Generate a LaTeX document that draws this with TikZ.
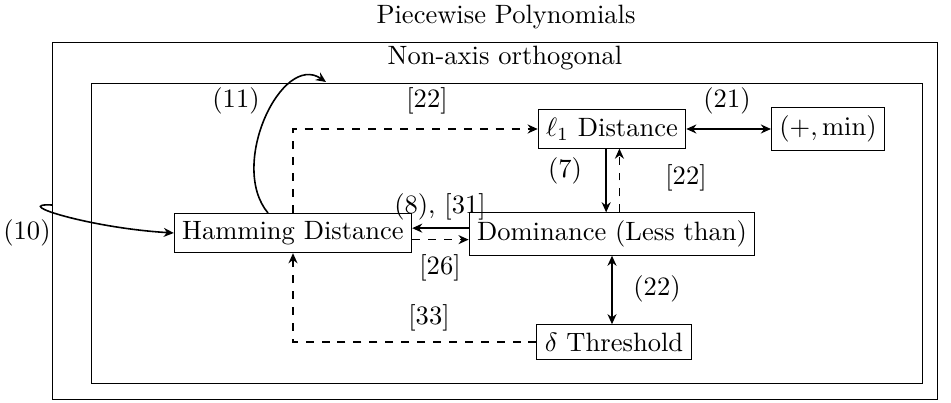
\documentclass[tikz,border=0pt]{standalone}
\usetikzlibrary{arrows.meta}
\begin{document}
\begin{tikzpicture}[x=0.377pt,y=-0.377pt,
  box/.style={draw, line width=0.35pt, inner sep=3pt},
  frame/.style={line width=0.35pt},
  lbl/.style={inner sep=0pt},
  conn/.style={semithick, -{Stealth[length=3.8pt,width=3.4pt]}},
  bothconn/.style={semithick, {Stealth[length=3.8pt,width=3.4pt]}-{Stealth[length=3.8pt,width=3.4pt]}},
  dconn/.style={conn, dashed}]
\useasboundingbox (0,0) rectangle (951,403);
% frames
\draw[frame] (52,42) rectangle (937,399);
\draw[frame] (91,83) rectangle (922,383);
\node[lbl] (title) at (506,17) {Piecewise Polynomials};
\node[lbl] (nao) at (505,58) {Non-axis orthogonal};
% nodes
\node[box] (ham) at (293,233) {Hamming Distance};
\node[box] (dom) at (612,234) {Dominance (Less than)};
\node[box] (l1) at (612,129) {$\ell_1$ Distance};
\node[box] (pm) at (828,129) {$(+,\min)$};
\node[box] (thr) at (614,342) {$\delta$ Threshold};
\coordinate (p10) at (52,205);
\coordinate (p11) at (326,82);
% connectors
\draw[dconn] (ham.north) |- (l1.west);
\draw[dconn] (thr.west) -| (ham.south);
\draw[conn] ([yshift=2.2pt]dom.west) -- ([yshift=2.2pt]dom.west -| ham.east);
\draw[dconn] ([yshift=-2.5pt]ham.east) -- ([yshift=-2.5pt]ham.east -| dom.west);
\draw[conn] ([xshift=-2.2pt]l1.south) -- ([xshift=-2.2pt]l1.south |- dom.north);
\draw[dconn] ([xshift=2.8pt]l1.south |- dom.north) -- ([xshift=2.8pt]l1.south);
\draw[bothconn] (l1.east) -- (pm.west);
\draw[bothconn] (dom.south) -- (dom.south |- thr.north);
\draw[conn] (p10) .. controls (10,203) and (90,228) .. (ham.west);
\draw[conn] (268,213) .. controls (228,165) and (282,52) .. (p11);
% labels
\node[lbl] at (27,233) {(10)};
\node[lbl] at (236,101) {(11)};
\node[lbl] at (427,101) {[22]};
\node[lbl] at (727,101) {(21)};
\node[lbl] at (565,171) {(7)};
\node[lbl] at (686,178) {[22]};
\node[lbl] at (440,207) {(8), [31]};
\node[lbl] at (440,268) {[26]};
\node[lbl] at (657,289) {(22)};
\node[lbl] at (429,318) {[33]};
\end{tikzpicture}
\end{document}
